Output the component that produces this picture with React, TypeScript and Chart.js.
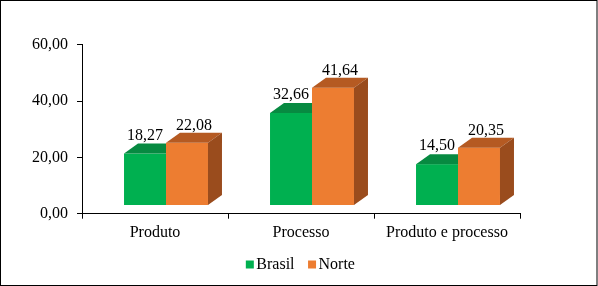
import { useEffect, useRef } from 'react';
import { Chart, registerables } from 'chart.js';

Chart.register(...registerables);

const FAMILY = "'Liberation Serif', 'Times New Roman', serif";
Chart.defaults.font.family = FAMILY;
Chart.defaults.font.size = 16;
Chart.defaults.color = '#000';

const categories = ['Produto', 'Processo', 'Produto e processo'];
const seriesNames = ['Brasil', 'Norte'];
const brasil = [18.27, 32.66, 14.5];
const norte = [22.08, 41.64, 20.35];
const yTicks = [0, 20, 40, 60];
const yTickLabels = ['0,00', '20,00', '40,00', '60,00'];

const FRONT = ['#00B050', '#ED7D31'];
const TOP = ['#078A41', '#B55A22'];
const SIDE = ['#057A38', '#9A4C1D'];

// 3D styling offsets
const SHIFT_X = 11;
const LIFT = 8.7;
const DX = 14;
const DY = 10;
const LABEL_DX = [0, 7];
const LABEL_DY = [4, 2.5];

// legend styling
const LEG_CENTER_X = 300.4;
const LEG_CENTER_Y = 264.5;
const LEG_BOX = 8;
const LEG_TEXT_GAP = 2.5;
const LEG_ITEM_GAP = 13.5;

const fmt = (v: number) => v.toFixed(2).replace('.', ',');

const bars3d = {
  id: 'bars3d',
  beforeDatasetDraw() {
    return false;
  },
  afterDatasetsDraw(chart: any) {
    const ctx = chart.ctx;
    const y = chart.scales.y;
    const base = y.getPixelForValue(0) - LIFT;
    const labels: any[] = [];
    chart.data.datasets.forEach((ds: any, i: number) => {
      const meta = chart.getDatasetMeta(i);
      meta.data.forEach((el: any, j: number) => {
        const { x, width } = el.getProps(['x', 'width'], true);
        const v = ds.data[j];
        const left = x - width / 2 + SHIFT_X;
        const right = left + width;
        const top = y.getPixelForValue(v) - LIFT;
        ctx.save();
        ctx.fillStyle = FRONT[i];
        ctx.fillRect(left, top, width, base - top);
        ctx.fillStyle = TOP[i];
        ctx.beginPath();
        ctx.moveTo(left, top);
        ctx.lineTo(right, top);
        ctx.lineTo(right + DX, top - DY);
        ctx.lineTo(left + DX, top - DY);
        ctx.closePath();
        ctx.fill();
        ctx.fillStyle = SIDE[i];
        ctx.beginPath();
        ctx.moveTo(right, top);
        ctx.lineTo(right + DX, top - DY);
        ctx.lineTo(right + DX, base - DY);
        ctx.lineTo(right, base);
        ctx.closePath();
        ctx.fill();
        ctx.restore();
        labels.push({ text: fmt(v), x: left + width / 2 + LABEL_DX[i], y: top - DY - LABEL_DY[i] });
      });
    });
    ctx.save();
    ctx.font = '16px ' + FAMILY;
    ctx.fillStyle = '#000';
    ctx.textAlign = 'center';
    ctx.textBaseline = 'alphabetic';
    labels.forEach((l) => ctx.fillText(l.text, l.x, l.y));
    ctx.restore();
  },
  afterDraw(chart: any) {
    const ctx = chart.ctx;
    ctx.save();
    // legend
    ctx.font = '16px ' + FAMILY;
    const items = chart.data.datasets.map((ds: any) => ({
      text: ds.label,
      color: ds.backgroundColor,
      w: ctx.measureText(ds.label).width,
    }));
    const total =
      items.reduce((s: number, it: any) => s + LEG_BOX + LEG_TEXT_GAP + it.w, 0) + LEG_ITEM_GAP * (items.length - 1);
    let cx = LEG_CENTER_X - total / 2;
    ctx.textAlign = 'left';
    ctx.textBaseline = 'middle';
    items.forEach((it: any) => {
      ctx.fillStyle = it.color;
      ctx.fillRect(cx, LEG_CENTER_Y - LEG_BOX / 2, LEG_BOX, LEG_BOX);
      cx += LEG_BOX + LEG_TEXT_GAP;
      ctx.fillStyle = '#000';
      ctx.fillText(it.text, cx, LEG_CENTER_Y + 0.5);
      cx += it.w + LEG_ITEM_GAP;
    });
    // outer border
    ctx.strokeStyle = '#000';
    ctx.lineWidth = 1;
    ctx.strokeRect(0.5, 0.5, chart.width - 1.5, chart.height - 1);
    ctx.restore();
  },
};

export default function App() {
  const ref = useRef<HTMLCanvasElement | null>(null);
  useEffect(() => {
    if (!ref.current) return;
    const chart = new Chart(ref.current, {
      type: 'bar',
      data: {
        labels: categories,
        datasets: [
          { label: seriesNames[0], data: brasil, backgroundColor: FRONT[0], borderWidth: 0 },
          { label: seriesNames[1], data: norte, backgroundColor: FRONT[1], borderWidth: 0 },
        ],
      },
      options: {
        animation: false,
        responsive: false,
        devicePixelRatio: 1,
        categoryPercentage: 0.575,
        barPercentage: 1,
        layout: { padding: { left: 0, right: 0, top: 44.7, bottom: 42 } },
        plugins: {
          legend: { display: false },
          tooltip: { enabled: false },
        },
        scales: {
          x: {
            grid: { display: true, drawOnChartArea: false, drawTicks: true, tickLength: 5, color: '#000', offset: true },
            border: { display: true, color: '#000', width: 1 },
            ticks: { padding: 4, color: '#000', maxRotation: 0, autoSkip: false, font: { size: 16, family: FAMILY } },
            afterFit: (s: any) => {
              s.height = 30.3;
            },
          },
          y: {
            min: 0,
            max: 60,
            afterBuildTicks: (s: any) => {
              s.ticks = yTicks.map((v) => ({ value: v }));
            },
            ticks: {
              padding: 9,
              color: '#000',
              font: { size: 16, family: FAMILY },
              callback: (v: any) => yTickLabels[yTicks.indexOf(Number(v))],
            },
            grid: { display: true, drawOnChartArea: false, drawTicks: true, tickLength: 5, color: '#000' },
            border: { display: true, color: '#000', width: 1 },
            afterFit: (s: any) => {
              s.width = 82;
            },
          },
          y2: {
            position: 'right',
            display: true,
            grid: { display: false },
            border: { display: false },
            ticks: { display: false },
            afterFit: (s: any) => {
              s.width = 78;
            },
          },
        },
      } as any,
      plugins: [bars3d],
    });
    return () => chart.destroy();
  }, []);
  return (
    <div style={{ position: 'absolute', left: 0, top: 0, width: 598, height: 286 }}>
      <canvas ref={ref} width={598} height={286} style={{ width: 598, height: 286, display: 'block' }} />
    </div>
  );
}
